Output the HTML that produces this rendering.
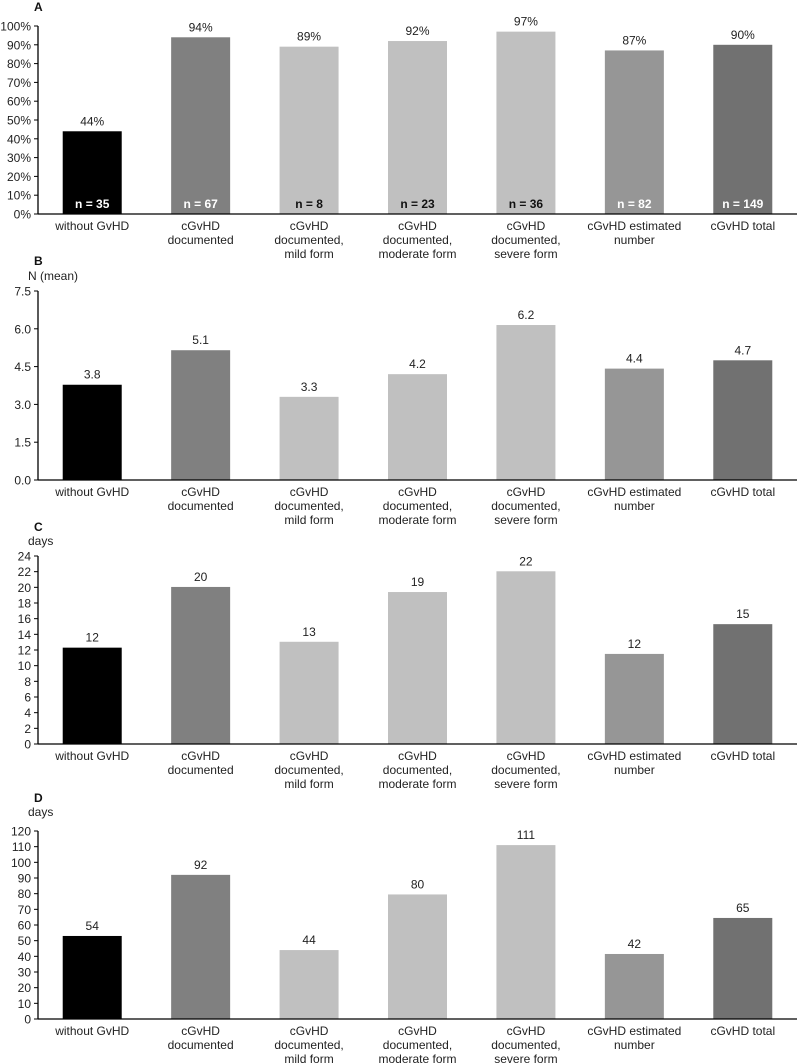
<!DOCTYPE html>
<html><head><meta charset="utf-8">
<style>
html,body{margin:0;padding:0;background:#fff;}
svg{display:block;font-family:"Liberation Sans",Arial,sans-serif;}
</style></head>
<body>
<svg id="chart" width="798" height="1064" viewBox="0 0 798 1064" xmlns="http://www.w3.org/2000/svg"></svg>
<script>
const categories = [["without GvHD"],["cGvHD","documented"],["cGvHD","documented,","mild form"],["cGvHD","documented,","moderate form"],["cGvHD","documented,","severe form"],["cGvHD estimated","number"],["cGvHD total"]];
const barColors = ["#000000","#808080","#c0c0c0","#c0c0c0","#c0c0c0","#969696","#717171"];
const valuesA = [44,94,89,92,97,87,90];
const labelsA = ["44%","94%","89%","92%","97%","87%","90%"];
const nLabelsA = ["n = 35","n = 67","n = 8","n = 23","n = 36","n = 82","n = 149"];
const nColorsA = ["#fff","#fff","#111","#111","#111","#fff","#fff"];
const ticksA = [0,10,20,30,40,50,60,70,80,90,100];
const valuesB = [3.78,5.15,3.3,4.2,6.15,4.42,4.75];
const labelsB = ["3.8","5.1","3.3","4.2","6.2","4.4","4.7"];
const ticksB = [0,1.5,3,4.5,6,7.5];
const valuesC = [12.3,20.05,13.05,19.4,22.05,11.5,15.3];
const labelsC = ["12","20","13","19","22","12","15"];
const ticksC = [0,2,4,6,8,10,12,14,16,18,20,22,24];
const valuesD = [53,92,44,79.5,111,41.5,64.5];
const labelsD = ["54","92","44","80","111","42","65"];
const ticksD = [0,10,20,30,40,50,60,70,80,90,100,110,120];

const NS="http://www.w3.org/2000/svg";
const svg=document.getElementById('chart');
function mk(tag,attrs,parent){const e=document.createElementNS(NS,tag);for(const k in attrs)e.setAttribute(k,attrs[k]);(parent||svg).appendChild(e);return e;}
const X0=38, X1=797, slot=(X1-X0)/7, BW=59;
function xc(i){return X0+slot*(i+0.5);}

function panel(key,letter,letterY,unit,unitY,yTop,yBot,ticks,fmt,values,labels,nLabels,nColors){
  const g=mk('g',{});
  
  
  const maxV=ticks[ticks.length-1];
  const y=v=>yBot-(v/maxV)*(yBot-yTop);
  const lt=mk('text',{x:34,y:letterY,'font-size':12,'font-weight':'bold',fill:'#111'},g);
  lt.textContent=letter;
  
  
  if(unit){const u=mk('text',{x:28,y:unitY,'font-size':12,fill:'#222'},g);u.textContent=unit;
    
    }
  ticks.forEach(t=>{
    mk('line',{x1:34,x2:X0,y1:y(t),y2:y(t),stroke:'#000','stroke-width':1},g);
    const tx=mk('text',{x:31,y:y(t)+4.5,'font-size':12,'text-anchor':'end',fill:'#222'},g);
    tx.textContent=fmt(t);
    
    
  });
  values.forEach((v,i)=>{
    const r=mk('rect',{x:xc(i)-BW/2,y:y(v),width:BW,height:yBot-y(v),fill:barColors[i]},g);
    
    
    const vl=mk('text',{x:xc(i),y:y(v)-6,'font-size':12,'text-anchor':'middle',fill:'#222'},g);
    vl.textContent=labels[i];
    
    
    if(nLabels){const nl=mk('text',{x:xc(i),y:yBot-6,'font-size':12,'font-weight':'bold','text-anchor':'middle',fill:nColors[i]},g);
      nl.textContent=nLabels[i];
      
      }
    categories[i].forEach((line,j)=>{
      const cl=mk('text',{x:xc(i),y:yBot+16+j*14,'font-size':12,'text-anchor':'middle',fill:'#222'},g);
      cl.textContent=line;
      
      
    });
  });
  mk('line',{x1:X0,x2:X0,y1:yTop,y2:yBot,stroke:'#000','stroke-width':1.3},g);
  mk('line',{x1:X0,x2:X1,y1:yBot,y2:yBot,stroke:'#000','stroke-width':1.3},g);
}
panel('a','A',11,null,0,26,214,ticksA,t=>t+'%',valuesA,labelsA,nLabelsA,nColorsA);
panel('b','B',265,'N (mean)',280,291,480,ticksB,t=>t.toFixed(1),valuesB,labelsB,null,null);
panel('c','C',531,'days',545,556,744,ticksC,t=>String(t),valuesC,labelsC,null,null);
panel('d','D',802,'days',816,831,1019,ticksD,t=>String(t),valuesD,labelsD,null,null);
</script>
</body></html>
